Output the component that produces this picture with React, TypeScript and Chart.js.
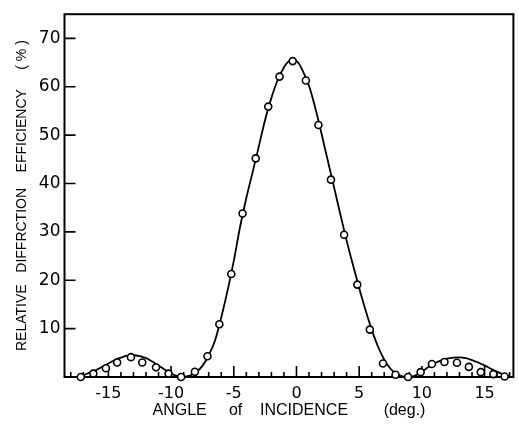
import React, { useEffect, useRef } from 'react';
import { Chart, registerables } from 'chart.js';

Chart.register(...registerables);

// Measured points (open circles)
const pointAngles = [
  -17.2, -16.2, -15.2, -14.3, -13.2, -12.3, -11.2, -10.2, -9.2, -8.1, -7.1, -6.15,
  -5.2, -4.3, -3.25, -2.25, -1.35, -0.3, 0.75, 1.75, 2.75, 3.8, 4.85, 5.85,
  6.9, 7.9, 8.9, 9.9, 10.8, 11.8, 12.8, 13.75, 14.7, 15.7, 16.6,
];
const pointEfficiency = [
  0.0, 0.7, 1.8, 3.0, 4.1, 3.0, 2.0, 0.7, 0.0, 1.1, 4.3, 10.9,
  21.3, 33.8, 45.2, 55.9, 62.1, 65.3, 61.3, 52.1, 40.8, 29.4, 19.1, 9.8,
  2.8, 0.45, 0.0, 1.0, 2.7, 3.1, 2.95, 2.1, 1.0, 0.6, 0.1,
];

// Theoretical curve (solid line)
const curveAngles = [
  -17.6, -17.5, -17, -16.5, -16, -15.5, -15, -14.5, -14, -13.5, -13, -12.5, -12, -11.5,
  -11, -10.5, -10, -9.5, -9, -8.5, -8, -7.5, -7, -6.5, -6, -5.5, -5, -4.5, -4, -3.5,
  -3, -2.5, -2, -1.5, -1, -0.5, 0, 0.5, 1, 1.5, 2, 2.5, 3, 3.5, 4, 4.5, 5, 5.5, 6,
  6.5, 7, 7.5, 8, 8.5, 9, 9.5, 10, 10.5, 11, 11.5, 12, 12.5, 13, 13.5, 14, 14.5, 15,
  15.5, 16, 16.5, 17, 17.3,
];
const curveEfficiency = [
  0.0, 0.05, 0.4, 0.9, 1.4, 2.1, 2.8, 3.5, 4.0, 4.4, 4.5, 4.3, 3.9, 3.2,
  2.4, 1.5, 0.7, 0.2, 0.05, 0.3, 1.0, 2.3, 4.5, 7.5, 12.3, 17.8, 24.0, 31.0, 37.0, 42.3,
  47.7, 53.2, 57.7, 61.4, 64.0, 65.4, 65.3, 63.3, 60.2, 55.6, 50.3, 44.7, 39.2, 33.6, 28.2, 23.2, 18.4, 13.9, 9.8,
  6.3, 3.6, 1.7, 0.6, 0.1, 0.0, 0.35, 1.1, 2.0, 2.8, 3.4, 3.8, 4.0, 4.05, 3.9, 3.5, 3.0, 2.4,
  1.7, 1.1, 0.5, 0.1, 0.0,
];

const xTickValues = [-15, -10, -5, 0, 5, 10, 15];
const xMinorTickValues = [
  -18, -17, -16, -15, -14, -13, -12, -11, -10, -9, -8, -7, -6, -5, -4, -3, -2, -1,
  0, 1, 2, 3, 4, 5, 6, 7, 8, 9, 10, 11, 12, 13, 14, 15, 16, 17,
];
const yTickValues = [10, 20, 30, 40, 50, 60, 70];

const xTitle = 'ANGLE     of    INCIDENCE        (deg.)';
const yTitle = 'RELATIVE   DIFFRCTION    EFFICIENCY     ( % )';

const frameTicks = {
  id: 'frameTicks',
  beforeDatasetsDraw(chart: any) {
    const { ctx, chartArea, scales } = chart;
    const { left, right, top, bottom } = chartArea;
    const x = scales.x;
    const y = scales.y;
    ctx.save();
    ctx.strokeStyle = '#000';
    ctx.lineWidth = 2;
    ctx.strokeRect(left, top, right - left, bottom - top);
    ctx.lineWidth = 1.6;
    ctx.beginPath();
    for (const v of xMinorTickValues) {
      const px = x.getPixelForValue(v);
      const len = xTickValues.includes(v) ? 11 : 5;
      ctx.moveTo(px, bottom);
      ctx.lineTo(px, bottom - len);
    }
    for (const v of yTickValues) {
      const py = y.getPixelForValue(v);
      ctx.moveTo(left, py);
      ctx.lineTo(left + 11, py);
    }
    ctx.stroke();
    ctx.restore();
  },
};

export default function App() {
  const canvasRef = useRef<HTMLCanvasElement | null>(null);

  useEffect(() => {
    document.body.style.margin = '0';
    const canvas = canvasRef.current;
    if (!canvas) return;
    const chart = new Chart(canvas, {
      type: 'scatter',
      data: {
        datasets: [
          {
            label: 'measured',
            data: pointAngles.map((a, i) => ({ x: a, y: pointEfficiency[i] })),
            showLine: false,
            pointRadius: 3.5,
            pointBorderWidth: 1.6,
            pointBackgroundColor: '#fff',
            pointBorderColor: '#000',
            clip: false as any,
            order: 0,
          },
          {
            label: 'theory',
            data: curveAngles.map((a, i) => ({ x: a, y: curveEfficiency[i] })),
            showLine: true,
            borderColor: '#000',
            borderWidth: 1.8,
            pointRadius: 0,
            cubicInterpolationMode: 'monotone',
            order: 1,
          },
        ],
      },
      options: {
        responsive: false,
        animation: false,
        layout: { padding: { top: 5, right: 5, left: 0, bottom: 0 } },
        plugins: {
          legend: { display: false },
          tooltip: { enabled: false },
        },
        scales: {
          x: {
            type: 'linear',
            min: -18.5,
            max: 17.3,
            afterBuildTicks: (s: any) => {
              s.ticks = xTickValues.map((value) => ({ value }));
            },
            afterFit: (s: any) => {
              s.height = 51;
            },
            grid: { display: false, drawTicks: false },
            border: { display: false },
            ticks: {
              autoSkip: false,
              maxRotation: 0,
              padding: 7,
              color: '#000',
              font: { family: 'DejaVu Sans', size: 16 },
              callback: (v: any) => String(v),
            },
            title: {
              display: true,
              text: xTitle,
              color: '#000',
              font: { family: 'Liberation Sans', size: 16 },
              padding: { top: 0, bottom: 8 },
            },
          },
          y: {
            type: 'linear',
            min: 0,
            max: 75,
            afterBuildTicks: (s: any) => {
              s.ticks = yTickValues.map((value) => ({ value }));
            },
            afterFit: (s: any) => {
              s.width = 64.5;
            },
            grid: { display: false, drawTicks: false },
            border: { display: false },
            ticks: {
              autoSkip: false,
              padding: 4,
              color: '#000',
              font: { family: 'DejaVu Sans', size: 17 },
              callback: (v: any) => String(v),
            },
            title: {
              display: true,
              text: yTitle,
              color: '#000',
              font: { family: 'Liberation Sans', size: 14 },
              padding: { top: 14, bottom: 0 },
            },
          },
        },
      },
      plugins: [frameTicks],
    });
    return () => chart.destroy();
  }, []);

  return <canvas ref={canvasRef} width={519} height={428} style={{ display: 'block' }} />;
}
